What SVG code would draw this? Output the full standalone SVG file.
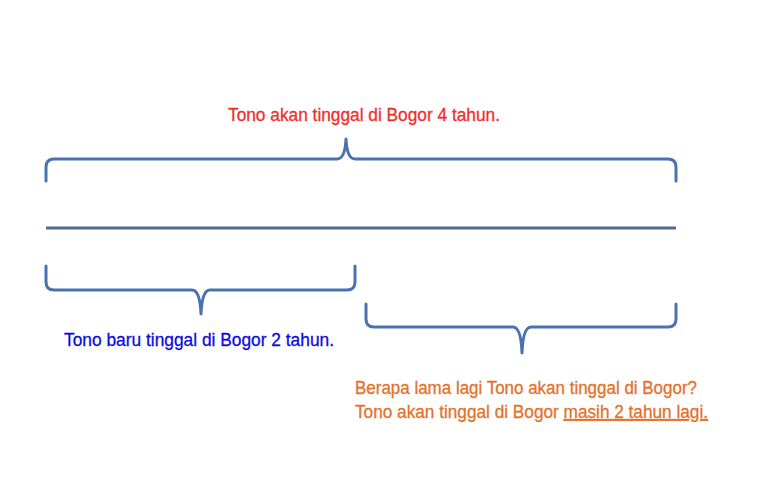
<svg xmlns="http://www.w3.org/2000/svg" width="777" height="499" viewBox="0 0 777 499">
<style>
.brace{fill:none;stroke:#4a72b0;stroke-width:3;stroke-linecap:round;stroke-linejoin:round}
.line{stroke:#4d6c9a;stroke-width:3}
.t{font-family:"Liberation Sans","Open Sans",sans-serif;font-size:19px;stroke-width:0.3}
</style>
<rect width="777" height="499" fill="#ffffff"/>
<g id="connectors">
<line id="timeline" class="line" x1="46" y1="228" x2="676" y2="228"/>
</g>
<g id="brace-total">
<path class="brace" d="M46,181 L46,167 Q46,159 54,159 L337,159 Q345,159 346,139 Q347,159 355,159 L668,159 Q676,159 676,167 L676,181"/>
<text class="t" x="228" y="121" fill="#f02d2d" stroke="#f02d2d" textLength="272" lengthAdjust="spacingAndGlyphs">Tono akan tinggal di Bogor 4 tahun.</text>
</g>
<g id="brace-past">
<path class="brace" d="M46,266 L46,282 Q46,290 54,290 L192,290 Q200,290 201,314 Q202,290 210,290 L347,290 Q355,290 355,282 L355,266"/>
<text class="t" x="64" y="346" fill="#0a0ae0" stroke="#0a0ae0" textLength="270" lengthAdjust="spacingAndGlyphs">Tono baru tinggal di Bogor 2 tahun.</text>
</g>
<g id="brace-remaining">
<path class="brace" d="M366,304 L366,319 Q366,327 374,327 L513,327 Q521,327 522,353 Q523,327 531,327 L668,327 Q676,327 676,319 L676,304"/>
<text class="t" x="355" y="394" fill="#e4702a" stroke="#e4702a" textLength="342" lengthAdjust="spacingAndGlyphs">Berapa lama lagi Tono akan tinggal di Bogor?</text>
<text class="t" x="355" y="418" fill="#e4702a" stroke="#e4702a" textLength="353" lengthAdjust="spacingAndGlyphs">Tono akan tinggal di Bogor <tspan text-decoration="underline">masih 2 tahun lagi.</tspan></text>
</g>
</svg>
